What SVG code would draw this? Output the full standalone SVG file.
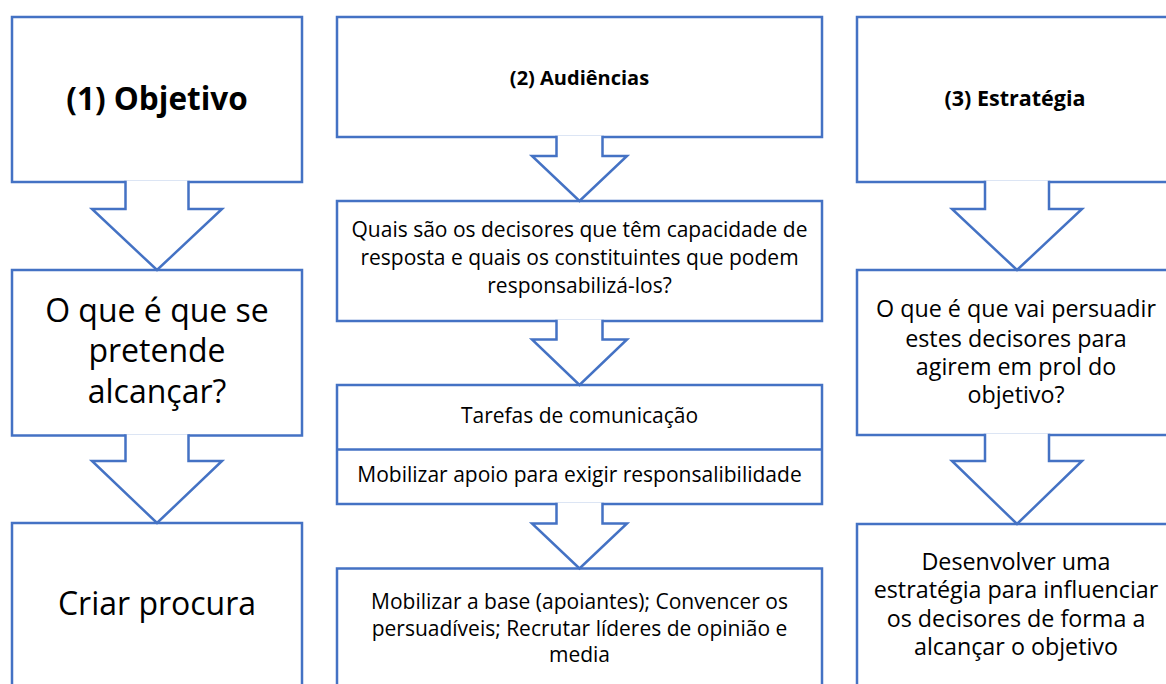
<svg xmlns="http://www.w3.org/2000/svg" width="1166" height="684" viewBox="0 0 1166 684">
<style>
.box{fill:#fff;stroke:#4472C4;stroke-width:2.5}
.arr{fill:#fff;stroke:#4472C4;stroke-width:2.5;stroke-linejoin:miter}
text{font-family:"Open Sans","Noto Sans",sans-serif;fill:#000;text-anchor:middle}
.b{font-weight:bold}
.t32{font-size:32px}
.t21{font-size:21px}
.t23{font-size:23.3px}
</style>
<rect width="1166" height="684" fill="#fff"/>
<g id="n-objetivo"><rect class="box" x="12" y="17" width="290" height="165"/><text class="b" x="157" y="110" font-size="31.5">(1) Objetivo</text></g>
<g id="n-pretende"><rect class="box" x="12" y="270" width="290" height="165.5"/><text class="t32" x="157" y="321.7">O que é que se</text><text class="t32" x="157" y="361.7">pretende</text><text class="t32" x="157" y="403">alcançar?</text></g>
<g id="n-criar"><rect class="box" x="12" y="523" width="290" height="180"/><text class="t32" x="157" y="615">Criar procura</text></g>
<g id="n-audiencias"><rect class="box" x="337" y="17" width="485" height="120"/><text class="b" x="579.5" y="85" font-size="20">(2) Audiências</text></g>
<g id="n-decisores"><rect class="box" x="337" y="201" width="485" height="120"/><text class="t21" x="579.5" y="237">Quais são os decisores que têm capacidade de</text><text class="t21" x="579.5" y="265">resposta e quais os constituintes que podem</text><text class="t21" x="579.5" y="293">responsabilizá-los?</text></g>
<g id="n-tarefas"><rect class="box" x="337" y="385" width="485" height="119"/><line class="box" x1="337" y1="449.5" x2="822" y2="449.5"/><text class="t21" x="579.5" y="423">Tarefas de comunicação</text><text class="t21" x="579.5" y="482">Mobilizar apoio para exigir responsalibilidade</text></g>
<g id="n-mobilizar"><rect class="box" x="337" y="568.5" width="485" height="140"/><text class="t21" x="579.5" y="609">Mobilizar a base (apoiantes); Convencer os</text><text class="t21" x="579.5" y="636">persuadíveis; Recrutar líderes de opinião e</text><text class="t21" x="579.5" y="662">media</text></g>
<g id="n-estrategia"><rect class="box" x="857" y="17" width="320" height="165"/><text class="b" x="1015" y="106" font-size="21.5">(3) Estratégia</text></g>
<g id="n-persuadir"><rect class="box" x="857" y="270" width="320" height="165"/><text class="t23" x="1016" y="316.7">O que é que vai persuadir</text><text class="t23" x="1016" y="346.7">estes decisores para</text><text class="t23" x="1016" y="375">agirem em prol do</text><text class="t23" x="1016" y="403.3">objetivo?</text></g>
<g id="n-desenvolver"><rect class="box" x="857" y="524" width="320" height="180"/><text class="t23" x="1016" y="570">Desenvolver uma</text><text class="t23" x="1016" y="598.3">estratégia para influenciar</text><text class="t23" x="1016" y="626.7">os decisores de forma a</text><text class="t23" x="1016" y="655">alcançar o objetivo</text></g>
<g id="connectors">
<path class="arr" d="M125.5 180.7V209H92L157 270L222 209H188.5V180.7"/>
<path class="arr" d="M125.5 434.2V461H92L157 523L222 461H188.5V434.2"/>
<path class="arr" d="M556.5 135.7V156H532L579.5 201L627 156H602.5V135.7"/>
<path class="arr" d="M556.5 319.7V339.5H532L579.5 385L627 339.5H602.5V319.7"/>
<path class="arr" d="M556.5 502.7V523.5H532L579.5 568.5L627 523.5H602.5V502.7"/>
<path class="arr" d="M985 180.7V209H952L1017 270L1082 209H1049V180.7"/>
<path class="arr" d="M985 433.7V461H952L1017 524L1082 461H1049V433.7"/>
</g>
</svg>
